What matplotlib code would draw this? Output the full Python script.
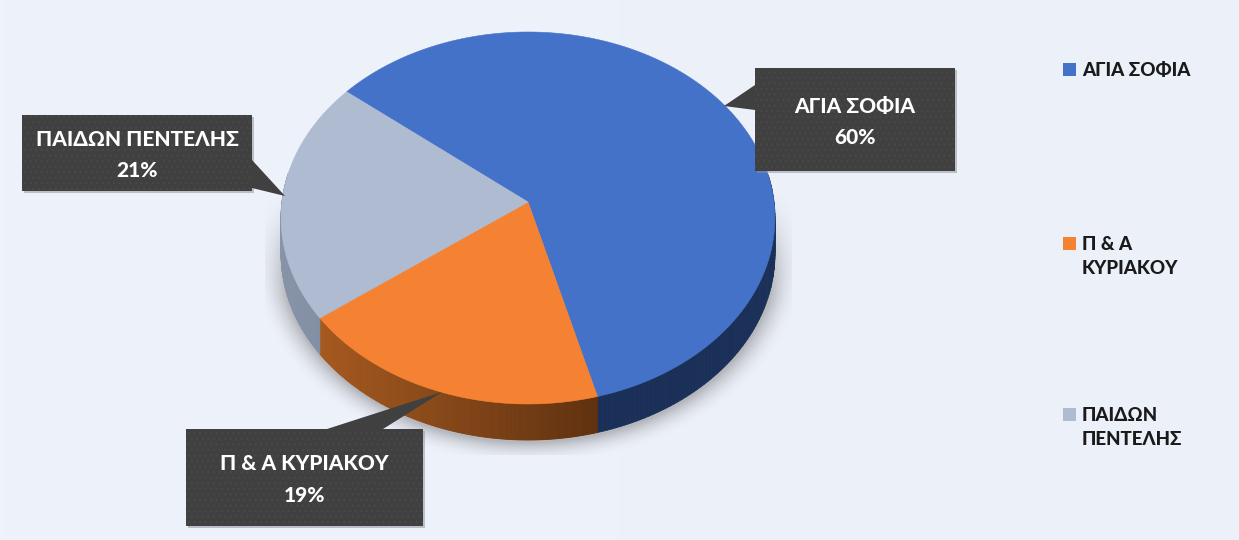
import numpy as np
import matplotlib
matplotlib.use("Agg")
import matplotlib.pyplot as plt
from matplotlib.patches import Polygon, Rectangle
from matplotlib.colors import LinearSegmentedColormap

plt.rcParams['font.family'] = ['Lato', 'Open Sans', 'DejaVu Sans']
plt.rcParams['hatch.linewidth'] = 0.6

# data
labels = ["ΑΓΙΑ ΣΟΦΙΑ", "Π & Α ΚΥΡΙΑΚΟΥ", "ΠΑΙΔΩΝ ΠΕΝΤΕΛΗΣ"]
legend_labels = ["ΑΓΙΑ ΣΟΦΙΑ", "Π & Α\nΚΥΡΙΑΚΟΥ", "ΠΑΙΔΩΝ\nΠΕΝΤΕΛΗΣ"]
values = [60, 19, 21]

# styles
top_colors = ["#4472c8", "#f58233", "#afbbd0"]
side_left = ["#1b3058", "#a5591f", "#8794a8"]
side_right = ["#1b3058", "#60310f", "#7f8ca1"]

# layout, pixels of the 1239x540 picture
cx, cy, rx, ry = 528, 218, 246, 186
tilt = -0.086
apex_shift = -16
depth = 36
start_deg = -51
boxes = [(755, 68, 200, 103), (186, 429, 237, 97), (22, 115, 230, 76)]
pointers = [
    [(755, 85), (724, 106), (755, 110)],
    [(327, 429), (442, 392), (383, 429)],
    [(252, 160), (285, 196), (252, 188)],
]
legend_y = [69, 243, 414]


def project(theta_deg, r=1.0):
    # angle clockwise from the top of the disc, with a bit of perspective
    t = np.radians(theta_deg)
    u, v = r * np.sin(t), -r * np.cos(t)
    den = 1 + tilt * v
    x = cx + rx * u / den
    y = cy + (ry * v + apex_shift) / den
    return x, y


fig = plt.figure(figsize=(12.39, 5.4), dpi=100)
ax = fig.add_axes([0, 0, 1, 1])
ax.set_xlim(0, 1239)
ax.set_ylim(540, 0)
ax.axis("off")

# background
bg = LinearSegmentedColormap.from_list("bg", ["#eef2fb", "#ecf0f9"])
ax.imshow(np.linspace(0, 1, 256).reshape(1, -1), extent=(0, 1239, 540, 0),
          cmap=bg, aspect="auto", zorder=0)

# soft shadow under the pie
xx, yy = np.meshgrid(np.arange(265, 792), np.arange(180, 455))
d = np.sqrt(((xx - cx) / (rx + 2)) ** 2 + ((yy - cy - depth) / (ry + 2)) ** 2)
alpha = np.clip((1.12 - d) / 0.12, 0, 1) ** 2 * 0.38
alpha *= np.clip((yy - 190) / 110, 0, 1)
rgba = np.zeros(xx.shape + (4,))
rgba[..., :3] = 0.35
rgba[..., 3] = alpha
ax.imshow(rgba, extent=(265, 792, 455, 180), aspect="auto", zorder=1)
ax.set_xlim(0, 1239)
ax.set_ylim(540, 0)

# slices
shares = np.array(values) / sum(values) * 360
starts = start_deg + np.concatenate([[0], np.cumsum(shares)[:-1]])

# side wall, only the part facing down is seen
for start, share, c1, c2 in zip(starts, shares, side_left, side_right):
    angles = np.linspace(start, start + share, 200)
    cmap = LinearSegmentedColormap.from_list("side", [c1, c2])
    xs, ys = project(angles)
    for i in range(len(angles) - 1):
        if np.cos(np.radians(angles[i])) > 0.15:
            continue
        frac = (xs[i] - xs.min()) / max(xs.max() - xs.min(), 1)
        quad = [(xs[i], ys[i]), (xs[i + 1], ys[i + 1]),
                (xs[i + 1], ys[i + 1] + depth), (xs[i], ys[i] + depth)]
        ax.add_patch(Polygon(quad, closed=True, fc=cmap(frac), ec=cmap(frac),
                             lw=0.6, zorder=2))

# top face
for start, share, color in zip(starts, shares, top_colors):
    angles = np.linspace(start, start + share, 200)
    xs, ys = project(angles)
    ax0, ay0 = project(0.0, 0.0)
    pts = np.column_stack([np.r_[ax0, xs], np.r_[ay0, ys]])
    ax.add_patch(Polygon(pts, closed=True, fc=color, ec=color, lw=0.4, zorder=3))

# callouts
for label, value, box, ptr in zip(labels, values, boxes, pointers):
    x, y, w, h = box
    ax.add_patch(Rectangle((x + 2, y + 2), w, h, fc="#8b8f98", ec="none",
                           alpha=0.5, zorder=4))
    ax.add_patch(Polygon(ptr, closed=True, fc="#404040", ec="none", zorder=5))
    ax.add_patch(Rectangle((x, y), w, h, fc="#404040", ec="#4b4b4b", lw=0,
                           hatch="...", zorder=5))
    ax.text(x + w / 2, y + h / 2 + 2, f"{label}\n{value}%", color="white",
            fontsize=15, fontweight="black", ha="center", va="center",
            linespacing=1.75, zorder=6)

# legend
for text, color, y in zip(legend_labels, top_colors, legend_y):
    ax.add_patch(Rectangle((1063, y - 6), 13, 13, fc=color, ec="none", zorder=4))
    ax.text(1082, y - 7, text, color="#1a1a1a", fontsize=13.5, fontweight="black",
            ha="left", va="top", linespacing=1.5, zorder=4)

fig.savefig("out.png", dpi=100)
